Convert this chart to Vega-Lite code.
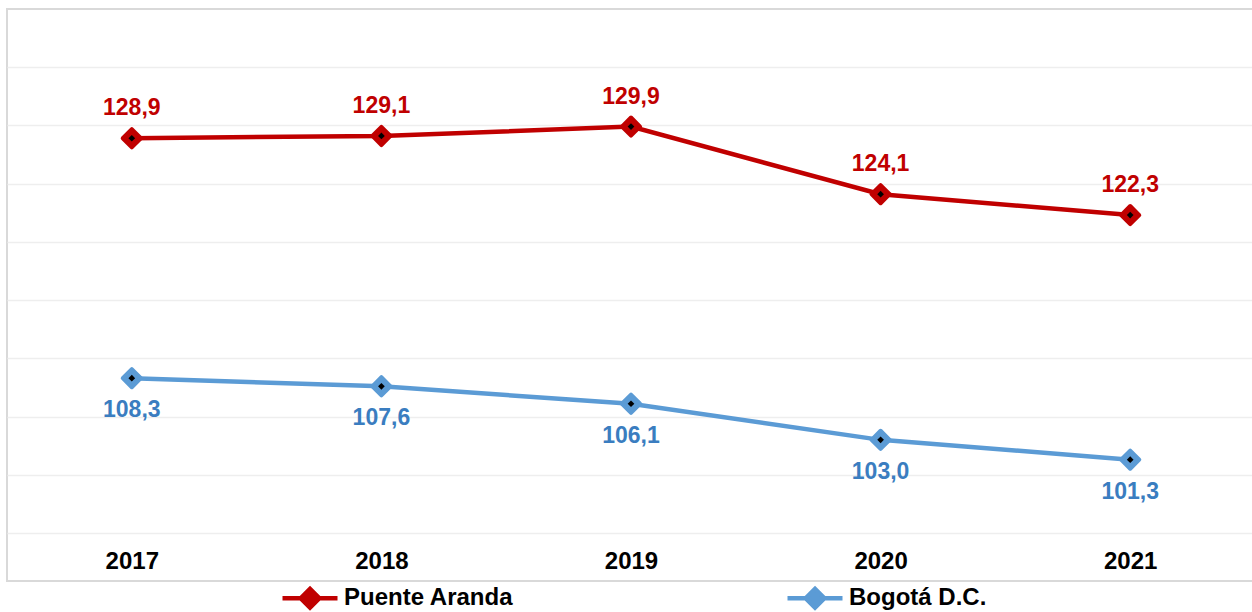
{
  "$schema": "https://vega.github.io/schema/vega-lite/v6.json",
  "width": 1248,
  "height": 572,
  "autosize": {"type": "none"},
  "padding": {"left": 7, "top": 9, "right": 0, "bottom": 31},
  "background": "white",
  "config": {
    "font": "Liberation Sans",
    "view": {"stroke": "#d9d9d9", "strokeWidth": 2}
  },
  "data": {
    "values": [
      {"year": "2017", "series": "Puente Aranda", "value": 128.9, "label": "128,9"},
      {"year": "2018", "series": "Puente Aranda", "value": 129.1, "label": "129,1"},
      {"year": "2019", "series": "Puente Aranda", "value": 129.9, "label": "129,9"},
      {"year": "2020", "series": "Puente Aranda", "value": 124.1, "label": "124,1"},
      {"year": "2021", "series": "Puente Aranda", "value": 122.3, "label": "122,3"},
      {"year": "2017", "series": "Bogotá D.C.", "value": 108.3, "label": "108,3"},
      {"year": "2018", "series": "Bogotá D.C.", "value": 107.6, "label": "107,6"},
      {"year": "2019", "series": "Bogotá D.C.", "value": 106.1, "label": "106,1"},
      {"year": "2020", "series": "Bogotá D.C.", "value": 103.0, "label": "103,0"},
      {"year": "2021", "series": "Bogotá D.C.", "value": 101.3, "label": "101,3"}
    ]
  },
  "encoding": {
    "x": {
      "field": "year", "type": "ordinal",
      "scale": {"type": "point", "padding": 0.5},
      "axis": {
        "title": null, "orient": "bottom", "offset": -32, "domain": false, "ticks": false,
        "grid": false, "labelAngle": 0, "labelPadding": 0, "labelFontSize": 24,
        "labelFontWeight": "bold", "labelColor": "#000000", "labelFont": "Liberation Sans"
      }
    },
    "y": {
      "field": "value", "type": "quantitative",
      "scale": {"domain": [90.88, 140], "nice": false, "zero": false},
      "axis": {
        "title": null, "labels": false, "ticks": false, "domain": false, "grid": true,
        "values": [95, 100, 105, 110, 115, 120, 125, 130, 135],
        "gridColor": "#eeeeee", "gridWidth": 1.5
      }
    }
  },
  "layer": [
    {
      "mark": {"type": "line", "strokeWidth": 4.5},
      "encoding": {
        "color": {
          "field": "series", "type": "nominal",
          "scale": {"domain": ["Puente Aranda", "Bogotá D.C."], "range": ["#C00000", "#5B9BD5"]},
          "legend": {
            "title": null, "orient": "none", "direction": "horizontal", "legendX": 273, "legendY": 559,
            "labelFontSize": 24, "labelFontWeight": "bold", "labelColor": "#000000", "labelFont": "Liberation Sans",
            "labelLimit": 400,
            "symbolType": "M-1,0H-0.34M0.34,0H1M-0.34,0L0,-0.34L0.34,0L0,0.34Z",
            "symbolSize": 3025, "symbolStrokeWidth": 4.5, "labelOffset": 4,
            "columnPadding": 264, "symbolFillColor": null
          }
        }
      }
    },
    {
      "mark": {"type": "point", "shape": "diamond", "filled": true, "size": 330, "strokeWidth": 4, "strokeJoin": "round", "opacity": 1},
      "encoding": {
        "color": {"field": "series", "type": "nominal", "legend": null},
        "stroke": {"field": "series", "type": "nominal", "legend": null, "scale": {"domain": ["Puente Aranda", "Bogotá D.C."], "range": ["#C00000", "#5B9BD5"]}}
      }
    },
    {
      "mark": {"type": "point", "shape": "diamond", "filled": true, "size": 45, "color": "#000000", "opacity": 1}
    },
    {
      "transform": [{"filter": "datum.series == 'Puente Aranda'"}],
      "mark": {"type": "text", "dy": -30, "fontSize": 23, "fontWeight": "bold", "color": "#C00000", "font": "Liberation Sans"},
      "encoding": {"text": {"field": "label"}}
    },
    {
      "transform": [{"filter": "datum.series == 'Bogotá D.C.'"}],
      "mark": {"type": "text", "dy": 32, "fontSize": 23, "fontWeight": "bold", "color": "#3A7DC0", "font": "Liberation Sans"},
      "encoding": {"text": {"field": "label"}}
    }
  ]
}
